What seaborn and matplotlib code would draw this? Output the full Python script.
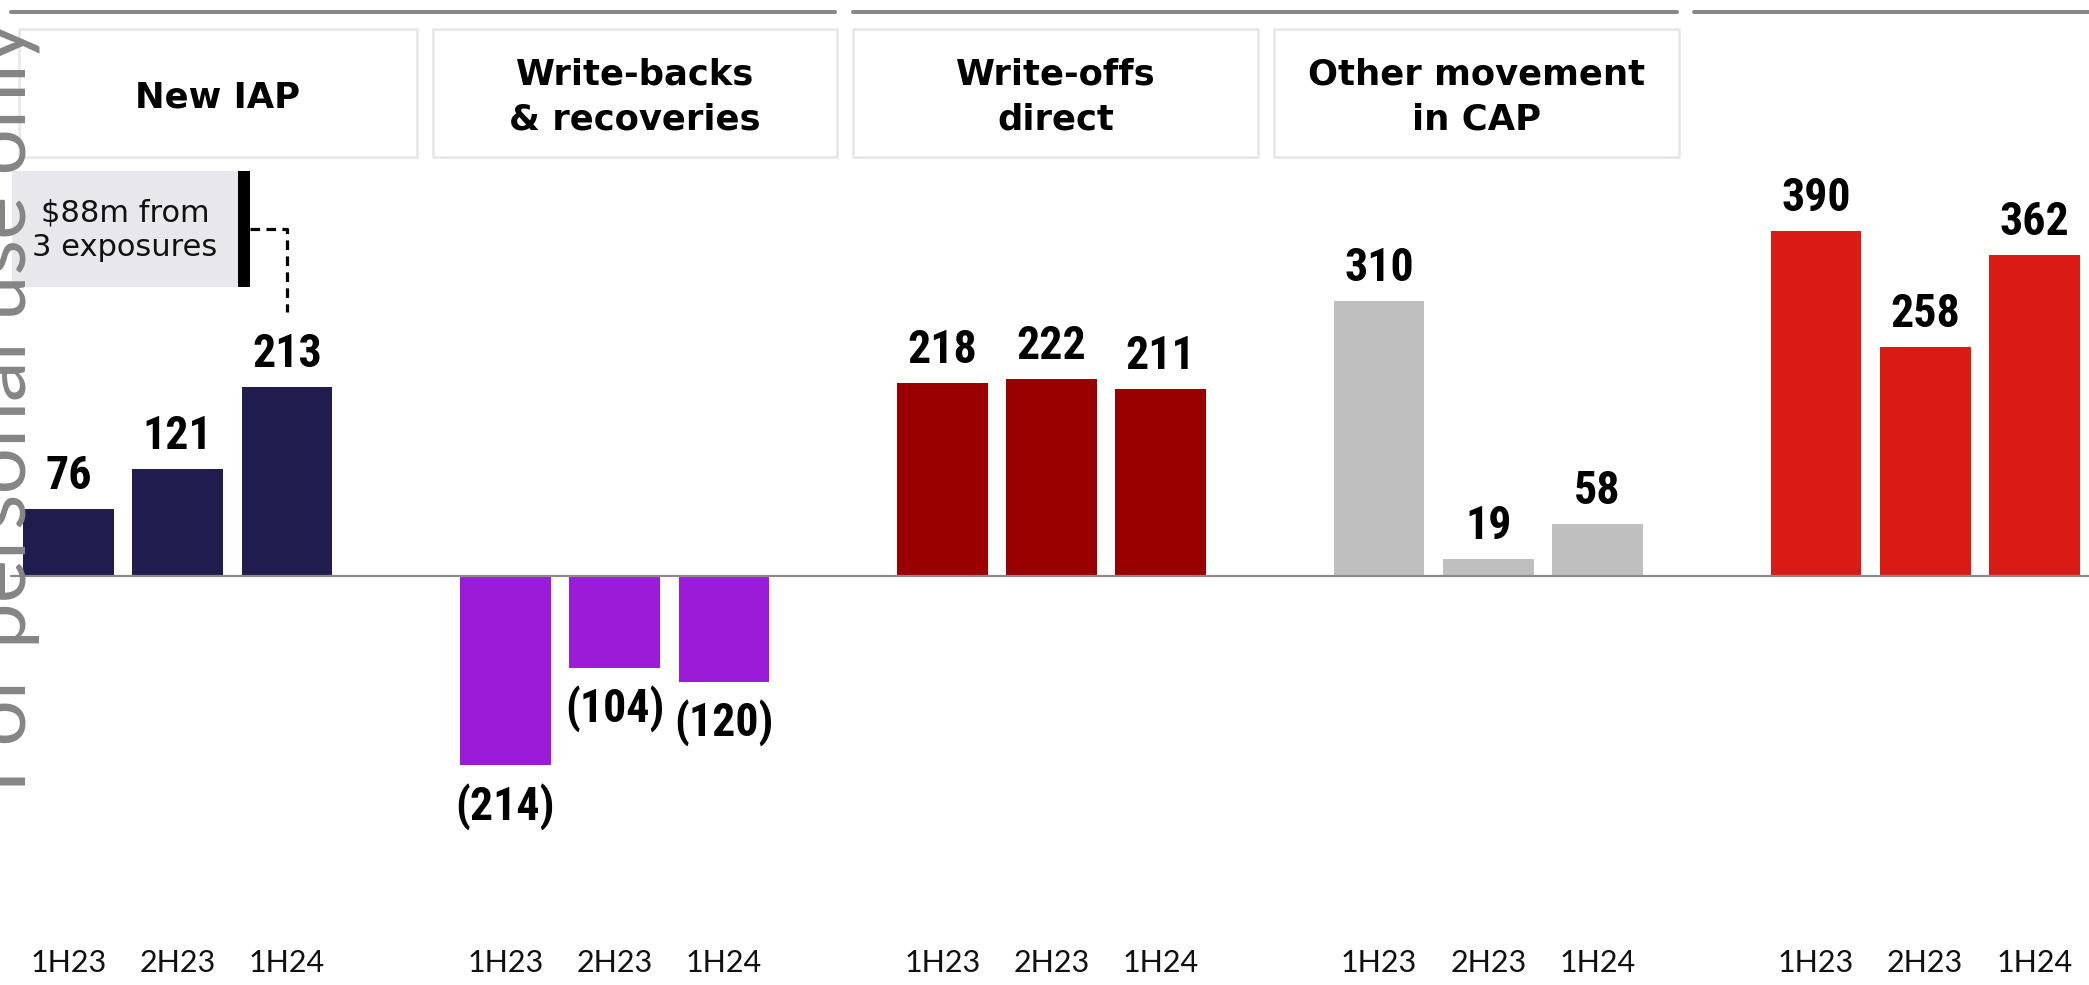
import matplotlib
matplotlib.use("Agg")
import matplotlib.pyplot as plt
import matplotlib.font_manager as fm
from matplotlib.patches import Rectangle
from matplotlib.lines import Line2D
import seaborn as sns
import pandas as pd

# ---------------- data ----------------
groups = ["New IAP", "Write-backs\n& recoveries", "Write-offs\ndirect", "Other movement\nin CAP", "Total"]
periods = ["1H23", "2H23", "1H24"]
new_iap = [76, 121, 213]
write_backs = [-214, -104, -120]
write_offs = [218, 222, 211]
other_cap = [310, 19, 58]
total = [390, 258, 362]
series = [new_iap, write_backs, write_offs, other_cap, total]
colors = ["#201C4E", "#9B1BD9", "#9A0000", "#BFBFBF", "#DA1A15"]
header_shown = [True, True, True, True, False]
note_text = "$88m from\n3 exposures"
watermark = "For personal use only"

# ---------------- fonts ----------------
sns.set_theme(style="white")
names = {f.name for f in fm.fontManager.ttflist}
def pick(cands, default="DejaVu Sans"):
    for c in cands:
        if c in names:
            return c
    return default
cond = pick(["Liberation Sans Narrow", "Roboto Condensed", "DejaVu Sans Condensed"])
val_size = 33 if cond != "DejaVu Sans" else 26
light = pick(["Lato", "Open Sans", "Noto Sans"])
plt.rcParams["font.family"] = ["DejaVu Sans"]

W, H = 2089, 985
fig = plt.figure(figsize=(W / 100, H / 100), dpi=100)
ax = fig.add_axes([0, 0, 1, 1])

rows = []
for g, (name, vals) in enumerate(zip(groups, series)):
    for i, (p, v) in enumerate(zip(periods, vals)):
        rows.append({"pos": g * 4 + i, "value": v, "group": name, "period": p})
df = pd.DataFrame(rows)

sns.barplot(data=df, x="pos", y="value", hue="group", palette=dict(zip(groups, colors)),
            native_scale=True, dodge=False, width=0.83, legend=False, ax=ax,
            saturation=1, linewidth=0, errorbar=None)

ax.set_xlim(-0.628, 18.50)
ax.set_ylim(-462.4, 650.6)
ax.set_axis_off()

def fx(px):
    return px / W
def fy(py):
    return 1 - py / H

# zero line
ax.add_line(Line2D([fx(11), 1], [fy(575.8), fy(575.8)], transform=ax.transAxes,
                   color="#8A8A8A", lw=1.6, zorder=4, clip_on=False))

# value labels
for _, r in df.iterrows():
    v = r["value"]
    txt = f"({abs(v)})" if v < 0 else f"{v}"
    if v >= 0:
        ax.annotate(txt, (r["pos"], v), xytext=(0, 14.4), textcoords="offset points",
                    ha="center", va="baseline", fontsize=val_size, fontweight="bold",
                    family=[cond, "DejaVu Sans"], color="black")
    else:
        ax.annotate(txt, (r["pos"], v), xytext=(0, -12.5), textcoords="offset points",
                    ha="center", va="top", fontsize=val_size, fontweight="bold",
                    family=[cond, "DejaVu Sans"], color="black")

# period labels
for _, r in df.iterrows():
    ax.text(r["pos"], fy(963), r["period"], transform=ax.get_xaxis_transform(),
            ha="center", va="center", fontsize=22, family=[light, "DejaVu Sans"],
            fontweight="normal", color="#111111")

# top rules
for x0, x1 in [(11, 835), (853, 1677), (1694, 2095)]:
    ax.add_line(Line2D([fx(x0), fx(x1)], [fy(12), fy(12)], transform=ax.transAxes,
                       color="#888888", lw=2.9, solid_capstyle="round", clip_on=False))

# header boxes
boxes = [(19, 417), (433, 837), (853, 1258), (1274, 1679)]
for (x0, x1), name, show in zip(boxes, groups, header_shown):
    if not show:
        continue
    ax.add_patch(Rectangle((fx(x0), fy(157)), fx(x1 - x0), (157 - 29) / H,
                           transform=ax.transAxes, facecolor="white",
                           edgecolor="#E6E6EC", lw=1.8, clip_on=False, zorder=2))
    ax.text(fx((x0 + x1) / 2), fy(97), name, transform=ax.transAxes, ha="center",
            va="center", fontsize=25.5, fontweight="bold", color="black",
            linespacing=1.42, zorder=3)

# annotation box
ax.add_patch(Rectangle((fx(12), fy(287)), fx(238 - 12), (287 - 171) / H,
                       transform=ax.transAxes, facecolor="#E8E7EC", edgecolor="none",
                       clip_on=False, zorder=2))
ax.add_patch(Rectangle((fx(238), fy(287)), fx(12), (287 - 171) / H,
                       transform=ax.transAxes, facecolor="black", edgecolor="none",
                       clip_on=False, zorder=3))
ax.text(fx(125), fy(230), note_text, transform=ax.transAxes, ha="center", va="center",
        fontsize=22, color="#111111", linespacing=1.25, zorder=4)
# dashed connector: from the black bar, across, then down to the 1H24 bar centre
xd = ax.transAxes.inverted().transform(ax.transData.transform((2.0, 0)))[0]
ax.add_line(Line2D([fx(250), xd, xd], [fy(229), fy(229), fy(312)], transform=ax.transAxes,
                   color="black", lw=2.3, ls=(0, (3, 2)), clip_on=False, zorder=3))

# watermark
fig.text(fx(25), fy(792), watermark, rotation=90, rotation_mode="anchor", ha="left",
         va="baseline", fontsize=59, family=[light, "DejaVu Sans"], fontweight="normal",
         color="#858585", zorder=10)

fig.savefig("out.png", dpi=100, facecolor="white")
